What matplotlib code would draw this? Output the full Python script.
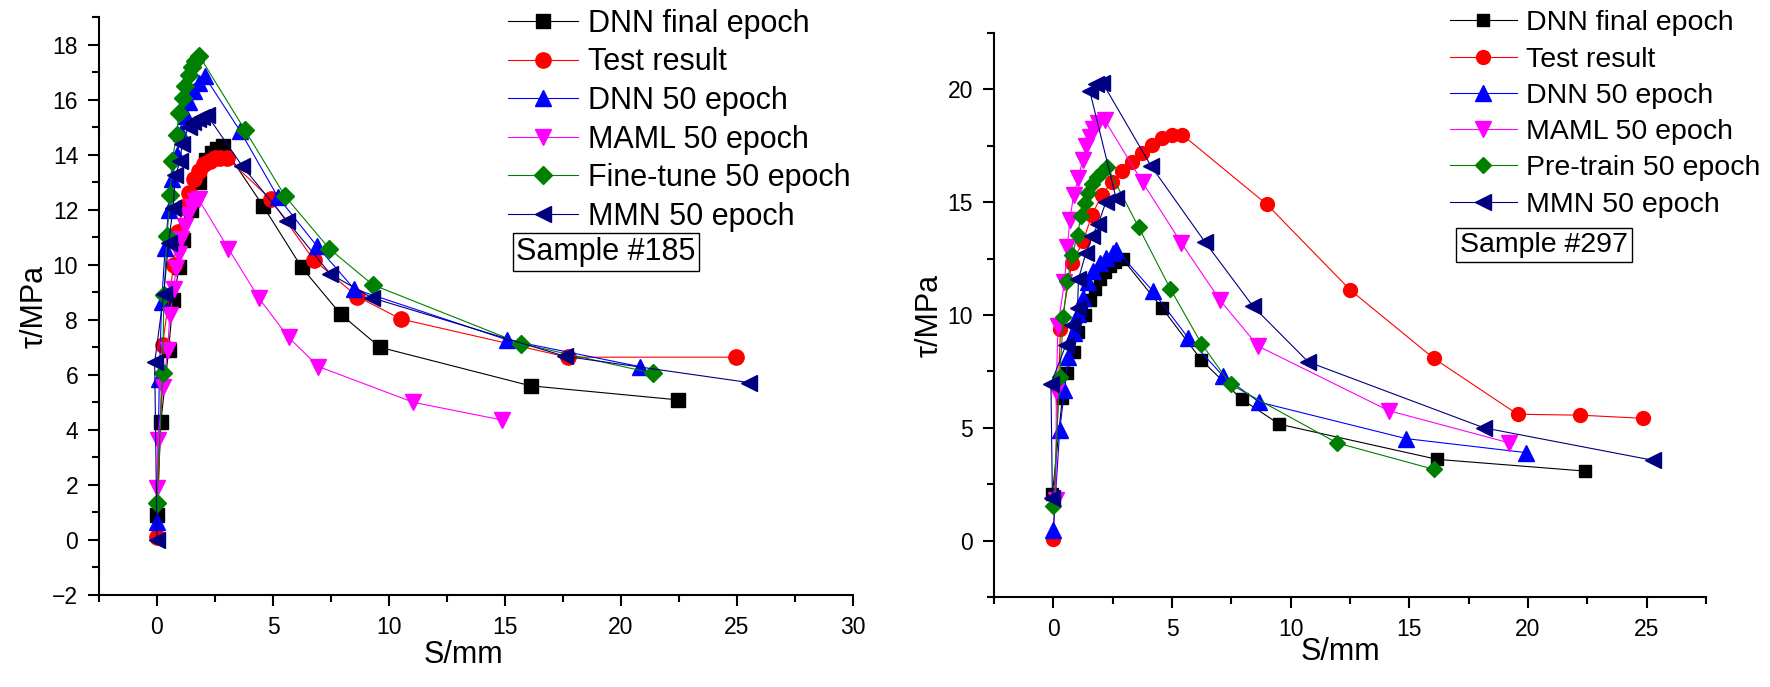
import matplotlib
matplotlib.use("Agg")
import matplotlib.pyplot as plt
from matplotlib.ticker import MultipleLocator

plt.rcParams['font.family'] = ['Liberation Sans', 'DejaVu Sans']

# ---- Sample #185 (left) ----
s185_dnn_final_x = [0.0, 0.17, 0.5, 0.69, 0.96, 1.13, 1.45, 1.82, 2.1, 2.35, 2.6, 2.85, 4.56, 6.24, 7.92, 9.61, 16.1, 22.45]
s185_dnn_final_y = [0.9, 4.3, 6.9, 8.7, 9.9, 10.9, 12.0, 13.0, 13.8, 14.05, 14.2, 14.3, 12.15, 9.9, 8.2, 7.0, 5.6, 5.09]

s185_test_x = [0.0, 0.24, 0.72, 0.89, 1.12, 1.36, 1.58, 1.8, 2.04, 2.27, 2.5, 2.73, 3.0, 4.9, 6.75, 8.64, 10.5, 17.7, 24.95]
s185_test_y = [0.1, 7.1, 10.0, 11.2, 12.1, 12.6, 13.1, 13.4, 13.65, 13.78, 13.86, 13.89, 13.89, 12.38, 10.18, 8.84, 8.03, 6.64, 6.64]

s185_dnn50_x = [0.0, 0.1, 0.2, 0.35, 0.5, 0.65, 0.85, 1.05, 1.25, 1.4, 1.6, 1.8, 2.05, 3.59, 5.21, 6.9, 8.5, 15.1, 20.8]
s185_dnn50_y = [0.67, 5.85, 8.65, 10.6, 12.0, 13.1, 14.0, 14.8, 15.4, 15.9, 16.3, 16.6, 16.85, 14.85, 12.46, 10.67, 9.12, 7.27, 6.3]

s185_maml_x = [0.0, 0.04, 0.26, 0.46, 0.55, 0.72, 0.82, 0.93, 1.05, 1.2, 1.35, 1.5, 1.65, 1.79, 3.08, 4.38, 5.67, 6.96, 11.05, 14.86]
s185_maml_y = [1.9, 3.62, 5.55, 6.9, 8.16, 9.1, 9.88, 10.4, 10.95, 11.4, 11.8, 12.1, 12.3, 12.38, 10.58, 8.8, 7.36, 6.3, 5.0, 4.36]

s185_tune_x = [0.0, 0.24, 0.3, 0.43, 0.57, 0.64, 0.86, 0.93, 1.1, 1.21, 1.36, 1.5, 1.64, 1.83, 3.8, 5.52, 7.43, 9.3, 15.7, 21.4]
s185_tune_y = [1.34, 6.06, 8.9, 11.03, 12.55, 13.76, 14.73, 15.5, 16.06, 16.5, 16.9, 17.2, 17.4, 17.58, 14.88, 12.49, 10.58, 9.27, 7.13, 6.05]

s185_mmn_x = [0.0, -0.1, 0.29, 0.5, 0.69, 0.79, 1.0, 1.08, 1.36, 1.55, 1.75, 1.95, 2.15, 3.66, 5.6, 7.46, 9.25, 17.6, 25.5]
s185_mmn_y = [0.0, 6.45, 8.94, 10.8, 12.06, 13.25, 13.76, 14.4, 15.0, 15.2, 15.3, 15.38, 15.45, 13.6, 11.6, 9.67, 8.8, 6.67, 5.72]

# ---- Sample #297 (right) ----
s297_dnn_final_x = [-0.04, 0.38, 0.59, 0.85, 1.06, 1.33, 1.54, 1.76, 1.97, 2.18, 2.39, 2.6, 2.92, 4.59, 6.24, 7.93, 9.52, 16.18, 22.42]
s297_dnn_final_y = [2.05, 6.33, 7.44, 8.38, 9.26, 9.98, 10.66, 11.15, 11.6, 11.9, 12.19, 12.34, 12.48, 10.3, 8.0, 6.27, 5.16, 3.6, 3.08]

s297_test_x = [0.0, 0.3, 0.78, 1.27, 1.62, 2.04, 2.46, 2.89, 3.31, 3.73, 4.16, 4.58, 5.0, 5.42, 9.0, 12.52, 16.03, 19.56, 22.2, 24.85]
s297_test_y = [0.05, 9.4, 12.29, 13.3, 14.43, 15.3, 15.9, 16.4, 16.8, 17.17, 17.53, 17.85, 17.97, 18.0, 14.9, 11.1, 8.08, 5.6, 5.56, 5.42]

s297_dnn50_x = [0.0, 0.27, 0.47, 0.63, 0.85, 1.02, 1.23, 1.48, 1.69, 1.95, 2.22, 2.5, 2.64, 4.19, 5.67, 7.15, 8.67, 14.87, 19.92]
s297_dnn50_y = [0.49, 4.9, 6.66, 8.14, 9.2, 10.05, 10.77, 11.47, 11.94, 12.29, 12.52, 12.75, 12.9, 11.06, 9.0, 7.3, 6.14, 4.52, 3.9]

s297_maml_x = [0.1, 0.13, 0.19, 0.47, 0.59, 0.7, 0.85, 1.06, 1.23, 1.38, 1.55, 1.69, 1.9, 2.16, 3.76, 5.39, 7.02, 8.63, 14.13, 19.18]
s297_maml_y = [1.8, 6.63, 9.5, 11.46, 13.0, 14.22, 15.3, 16.08, 16.86, 17.48, 17.88, 18.26, 18.51, 18.65, 15.88, 13.2, 10.66, 8.62, 5.76, 4.34]

s297_pre_x = [0.0, 0.27, 0.42, 0.59, 0.8, 1.02, 1.16, 1.33, 1.48, 1.65, 1.86, 2.07, 2.28, 3.59, 4.93, 6.24, 7.47, 11.95, 16.03]
s297_pre_y = [1.52, 7.25, 9.9, 11.5, 12.67, 13.55, 14.37, 14.98, 15.4, 15.8, 16.1, 16.35, 16.55, 13.9, 11.16, 8.73, 6.92, 4.33, 3.16]

s297_mmn_x = [-0.04, -0.1, 0.53, 0.8, 1.02, 1.06, 1.37, 1.65, 1.9, 2.22, 2.64, 1.54, 1.8, 2.07, 4.12, 6.38, 8.41, 10.74, 18.14, 25.27]
s297_mmn_y = [1.9, 6.95, 8.68, 9.55, 10.33, 11.6, 12.74, 13.52, 14.05, 15.03, 15.19, 19.91, 20.26, 20.3, 16.6, 13.25, 10.39, 7.92, 5.0, 3.56]

colors = ['black', '#FF0000', '#0000FF', '#FF00FF', '#008000', '#000080']
markers = ['s', 'o', '^', 'v', 'D', '<']
msizes = [9, 10, 11, 11, 8, 11]


def style_axes(ax, xlim, ylim, xmaj, xmin, ymaj, ymin):
    ax.set_xlim(*xlim)
    ax.set_ylim(*ylim)
    ax.xaxis.set_major_locator(MultipleLocator(xmaj))
    ax.xaxis.set_minor_locator(MultipleLocator(xmin))
    ax.yaxis.set_major_locator(MultipleLocator(ymaj))
    ax.yaxis.set_minor_locator(MultipleLocator(ymin))
    for s in ['top', 'right']:
        ax.spines[s].set_visible(False)
    for s in ['left', 'bottom']:
        ax.spines[s].set_linewidth(1.5)
    ax.tick_params(which='major', direction='out', length=8, width=1.5, labelsize=16.5, pad=7)
    ax.tick_params(which='minor', direction='out', length=5, width=1.5)


def plot_sample(ax, series, labels, scale):
    for i, (x, y) in enumerate(series):
        ax.plot(x, y, color=colors[i], marker=markers[i], markersize=msizes[i] * scale,
                linewidth=0.8, label=labels[i], clip_on=False)


fig = plt.figure(figsize=(17.7, 6.87), dpi=100)

ax1 = fig.add_axes([0.05593, 0.13392, 0.42599, 0.84134])
series185 = [(s185_dnn_final_x, s185_dnn_final_y), (s185_test_x, s185_test_y),
             (s185_dnn50_x, s185_dnn50_y), (s185_maml_x, s185_maml_y),
             (s185_tune_x, s185_tune_y), (s185_mmn_x, s185_mmn_y)]
labels185 = ["DNN final epoch", "Test result", "DNN 50 epoch", "MAML 50 epoch",
             "Fine-tune 50 epoch", "MMN 50 epoch"]
plot_sample(ax1, series185, labels185, 1.1)
style_axes(ax1, (-2.5, 30), (-2, 19), 5, 2.5, 2, 1)
ax1.set_xlabel("S/mm", fontsize=22, va='center')
ax1.set_ylabel("τ/MPa", fontsize=22, va='center')
ax1.xaxis.set_label_coords(0.483, -0.104)
ax1.yaxis.set_label_coords(-0.086, 0.5)
ax1.legend(loc='upper left', bbox_to_anchor=(508 / 1770, 0.987), bbox_transform=fig.transFigure,
           frameon=False, borderpad=0, borderaxespad=0, handlelength=2.3, handletextpad=0.33,
           labelspacing=0.28, fontsize=22)
fig.text(606 / 1770, 1 - 252 / 687, "Sample #185", ha='center', va='center', fontsize=22,
         bbox=dict(boxstyle='square,pad=0.12', fc='white', ec='black', lw=1))

ax2 = fig.add_axes([0.56158, 0.13100, 0.40226, 0.82096])
series297 = [(s297_dnn_final_x, s297_dnn_final_y), (s297_test_x, s297_test_y),
             (s297_dnn50_x, s297_dnn50_y), (s297_maml_x, s297_maml_y),
             (s297_pre_x, s297_pre_y), (s297_mmn_x, s297_mmn_y)]
labels297 = ["DNN final epoch", "Test result", "DNN 50 epoch", "MAML 50 epoch",
             "Pre-train 50 epoch", "MMN 50 epoch"]
plot_sample(ax2, series297, labels297, 1.0)
style_axes(ax2, (-2.5, 27.5), (-2.5, 22.5), 5, 2.5, 5, 2.5)
ax2.set_xlabel("S/mm", fontsize=22, va='center')
ax2.set_ylabel("τ/MPa", fontsize=22, va='center')
ax2.xaxis.set_label_coords(0.486, -0.0975)
ax2.yaxis.set_label_coords(-0.09, 0.5)
ax2.legend(loc='upper left', bbox_to_anchor=(1450 / 1770, 0.985), bbox_transform=fig.transFigure,
           frameon=False, borderpad=0, borderaxespad=0, handlelength=2.35, handletextpad=0.32,
           labelspacing=0.36, fontsize=20.5)
fig.text(1544 / 1770, 1 - 245 / 687, "Sample #297", ha='center', va='center', fontsize=20.5,
         bbox=dict(boxstyle='square,pad=0.15', fc='white', ec='black', lw=1))

plt.savefig('out.png', dpi=100)
plt.close()
